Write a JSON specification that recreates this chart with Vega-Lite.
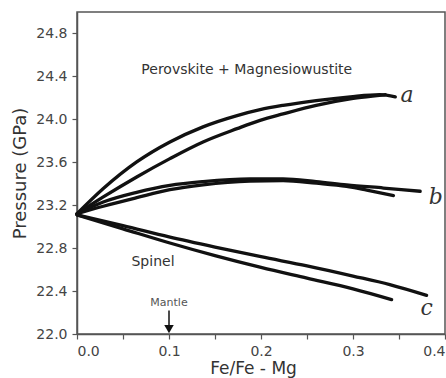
{
  "$schema": "https://vega.github.io/schema/vega-lite/v6.json",
  "width": 368,
  "height": 322,
  "autosize": {"type": "none"},
  "padding": {"left": 77, "top": 12, "right": 1, "bottom": 44},
  "background": "white",
  "config": {
    "view": {"stroke": "#555", "strokeWidth": 1.5},
    "axis": {
      "domainColor": "#555",
      "domainWidth": 1.5,
      "tickColor": "#555",
      "tickWidth": 1.2,
      "labelColor": "#444",
      "labelFont": "DejaVu Sans",
      "labelFontSize": 14,
      "titleFont": "DejaVu Sans",
      "titleFontSize": 18,
      "titleFontWeight": "normal",
      "titleColor": "#333",
      "grid": false,
      "labelPadding": 5
    }
  },
  "datasets": {
    "curves": [
      {"s": "a1", "x": 0, "p": 23.12},
      {"s": "a1", "x": 0.0286, "p": 23.355},
      {"s": "a1", "x": 0.0649, "p": 23.603},
      {"s": "a1", "x": 0.101, "p": 23.789},
      {"s": "a1", "x": 0.137, "p": 23.93},
      {"s": "a1", "x": 0.174, "p": 24.035},
      {"s": "a1", "x": 0.199, "p": 24.09},
      {"s": "a1", "x": 0.224, "p": 24.13},
      {"s": "a1", "x": 0.26, "p": 24.175},
      {"s": "a1", "x": 0.297, "p": 24.21},
      {"s": "a1", "x": 0.329, "p": 24.23},
      {"s": "a1", "x": 0.346, "p": 24.21},
      {"s": "a2", "x": 0, "p": 23.12},
      {"s": "a2", "x": 0.0286, "p": 23.277},
      {"s": "a2", "x": 0.0649, "p": 23.463},
      {"s": "a2", "x": 0.101, "p": 23.634},
      {"s": "a2", "x": 0.137, "p": 23.789},
      {"s": "a2", "x": 0.174, "p": 23.913},
      {"s": "a2", "x": 0.199, "p": 23.99},
      {"s": "a2", "x": 0.224, "p": 24.05},
      {"s": "a2", "x": 0.26, "p": 24.13},
      {"s": "a2", "x": 0.297, "p": 24.19},
      {"s": "a2", "x": 0.326, "p": 24.22},
      {"s": "a2", "x": 0.335, "p": 24.23},
      {"s": "b1", "x": 0, "p": 23.12},
      {"s": "b1", "x": 0.0286, "p": 23.23},
      {"s": "b1", "x": 0.0649, "p": 23.32},
      {"s": "b1", "x": 0.101, "p": 23.385},
      {"s": "b1", "x": 0.137, "p": 23.42},
      {"s": "b1", "x": 0.188, "p": 23.445},
      {"s": "b1", "x": 0.224, "p": 23.445},
      {"s": "b1", "x": 0.26, "p": 23.42},
      {"s": "b1", "x": 0.293, "p": 23.39},
      {"s": "b1", "x": 0.333, "p": 23.36},
      {"s": "b1", "x": 0.373, "p": 23.33},
      {"s": "b2", "x": 0, "p": 23.12},
      {"s": "b2", "x": 0.0286, "p": 23.19},
      {"s": "b2", "x": 0.0649, "p": 23.27},
      {"s": "b2", "x": 0.101, "p": 23.345},
      {"s": "b2", "x": 0.137, "p": 23.39},
      {"s": "b2", "x": 0.188, "p": 23.425},
      {"s": "b2", "x": 0.224, "p": 23.43},
      {"s": "b2", "x": 0.26, "p": 23.405},
      {"s": "b2", "x": 0.293, "p": 23.375},
      {"s": "b2", "x": 0.315, "p": 23.34},
      {"s": "b2", "x": 0.344, "p": 23.29},
      {"s": "c1", "x": 0, "p": 23.11},
      {"s": "c1", "x": 0.05, "p": 23.01},
      {"s": "c1", "x": 0.1, "p": 22.905},
      {"s": "c1", "x": 0.15, "p": 22.81},
      {"s": "c1", "x": 0.2, "p": 22.72},
      {"s": "c1", "x": 0.25, "p": 22.635},
      {"s": "c1", "x": 0.3, "p": 22.54},
      {"s": "c1", "x": 0.34, "p": 22.46},
      {"s": "c1", "x": 0.38, "p": 22.36},
      {"s": "c2", "x": 0, "p": 23.11},
      {"s": "c2", "x": 0.05, "p": 22.98},
      {"s": "c2", "x": 0.1, "p": 22.85},
      {"s": "c2", "x": 0.15, "p": 22.73},
      {"s": "c2", "x": 0.2, "p": 22.62},
      {"s": "c2", "x": 0.25, "p": 22.52},
      {"s": "c2", "x": 0.3, "p": 22.42},
      {"s": "c2", "x": 0.342, "p": 22.32}
    ],
    "regions": [
      {"x": 0.1845, "p": 24.456, "t": "Perovskite + Magnesiowustite"},
      {"x": 0.0826, "p": 22.67, "t": "Spinel"}
    ],
    "letters": [
      {"x": 0.3587, "p": 24.223, "t": "a"},
      {"x": 0.39, "p": 23.274, "t": "b"},
      {"x": 0.38, "p": 22.242, "t": "c"}
    ],
    "mantle": [
      {"x": 0.1, "p": 22.286, "t": "Mantle", "p0": 22.22, "p1": 22.05, "tip": 22.045}
    ]
  },
  "layer": [
    {
      "data": {"name": "curves"},
      "mark": {"type": "line", "color": "#111", "strokeWidth": 3.3, "interpolate": "monotone", "strokeCap": "round"},
      "encoding": {
        "x": {
          "field": "x", "type": "quantitative",
          "scale": {"domain": [0, 0.4], "nice": false, "zero": false},
          "axis": {
            "title": "Fe/Fe - Mg",
            "titleFontSize": 17,
            "values": [0, 0.05, 0.1, 0.15, 0.2, 0.25, 0.3, 0.35, 0.4],
            "labelExpr": "round(datum.value*100) % 10 == 0 ? format(datum.value, '.1f') : ''",
            "tickSize": 5,
            "titleX": 176,
            "titleY": 34,
            "titleBaseline": "middle"
          }
        },
        "y": {
          "field": "p", "type": "quantitative",
          "scale": {"domain": [22.0, 25.0], "nice": false, "zero": false},
          "axis": {
            "title": "Pressure (GPa)",
            "values": [22.0, 22.2, 22.4, 22.6, 22.8, 23.0, 23.2, 23.4, 23.6, 23.8, 24.0, 24.2, 24.4, 24.6, 24.8],
            "labelExpr": "round(datum.value*10) % 4 == 0 ? format(datum.value, '.1f') : ''",
            "tickSize": 5,
            "titleAngle": -90,
            "titleX": -57,
            "titleY": 161,
            "titleBaseline": "middle",
            "titleAlign": "center"
          }
        },
        "detail": {"field": "s"}
      }
    },
    {
      "data": {"name": "regions"},
      "mark": {"type": "text", "font": "DejaVu Sans", "fontSize": 14, "color": "#333", "baseline": "middle", "align": "center"},
      "encoding": {
        "x": {"field": "x", "type": "quantitative"},
        "y": {"field": "p", "type": "quantitative"},
        "text": {"field": "t"}
      }
    },
    {
      "data": {"name": "letters"},
      "mark": {"type": "text", "font": "DejaVu Serif", "fontStyle": "italic", "fontSize": 22, "color": "#333", "baseline": "middle", "align": "center"},
      "encoding": {
        "x": {"field": "x", "type": "quantitative"},
        "y": {"field": "p", "type": "quantitative"},
        "text": {"field": "t"}
      }
    },
    {
      "data": {"name": "mantle"},
      "mark": {"type": "text", "font": "DejaVu Sans", "fontSize": 11, "color": "#555", "baseline": "middle", "align": "center"},
      "encoding": {
        "x": {"field": "x", "type": "quantitative"},
        "y": {"field": "p", "type": "quantitative"},
        "text": {"field": "t"}
      }
    },
    {
      "data": {"name": "mantle"},
      "mark": {"type": "rule", "color": "#111", "strokeWidth": 1.5},
      "encoding": {
        "x": {"field": "x", "type": "quantitative"},
        "y": {"field": "p0", "type": "quantitative"},
        "y2": {"field": "p1"}
      }
    },
    {
      "data": {"name": "mantle"},
      "mark": {"type": "point", "shape": "triangle-down", "filled": true, "color": "#111", "size": 90, "opacity": 1},
      "encoding": {
        "x": {"field": "x", "type": "quantitative"},
        "y": {"field": "tip", "type": "quantitative"}
      }
    }
  ]
}
